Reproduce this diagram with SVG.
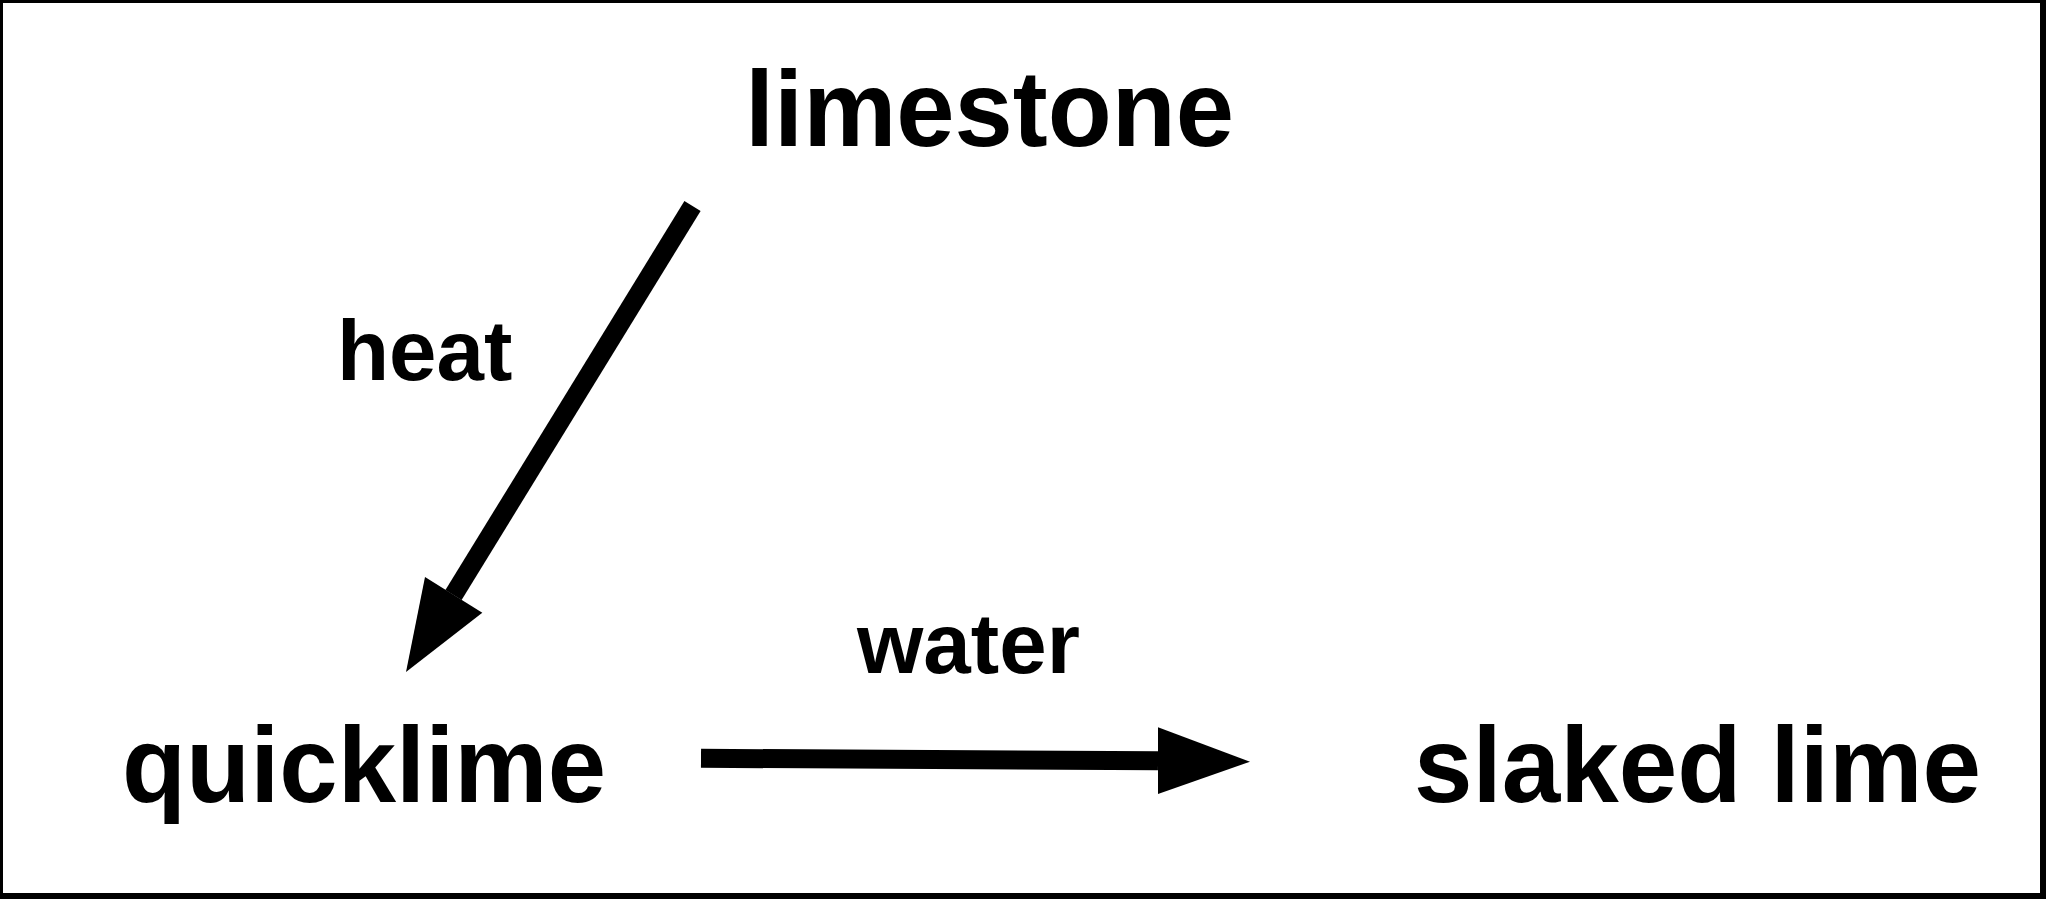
<svg xmlns="http://www.w3.org/2000/svg" width="2046" height="900" viewBox="0 0 2046 900">
  <style>
    .big { font-family: "Liberation Sans", Arial, sans-serif; font-weight: bold; font-size: 106.67px; fill: #000; }
    .lbl { font-family: "Liberation Sans", Arial, sans-serif; font-weight: bold; font-size: 85.33px; fill: #000; }
    .conn { stroke: #000; stroke-width: 19; fill: none; stroke-linecap: butt; }
    .head { fill: #000; stroke: none; }
  </style>
  <rect x="0" y="0" width="2046" height="900" fill="#fff"/>
  <rect id="frame" x="0" y="0" width="2043" height="896" fill="none" stroke="#000" stroke-width="6"/>
  <g id="limestone">
    <text class="big" x="745" y="146" textLength="489" lengthAdjust="spacingAndGlyphs">limestone</text>
  </g>
  <g id="quicklime">
    <text class="big" x="122" y="802" textLength="484" lengthAdjust="spacingAndGlyphs">quicklime</text>
  </g>
  <g id="slaked-lime">
    <text class="big" x="1414" y="802" textLength="567" lengthAdjust="spacingAndGlyphs">slaked lime</text>
  </g>
  <g id="connectors">
    <g id="edge-heat">
      <line class="conn" x1="692.5" y1="206" x2="453.5" y2="595"/>
      <polygon class="head" points="406,672 425,577 482.3,612.7"/>
      <text class="lbl" x="337" y="380">heat</text>
    </g>
    <g id="edge-water">
      <line class="conn" x1="701" y1="758.3" x2="1158" y2="760.7"/>
      <polygon class="head" points="1250,761.7 1158,727.3 1158,794"/>
      <text class="lbl" x="857" y="673">water</text>
    </g>
  </g>
</svg>
